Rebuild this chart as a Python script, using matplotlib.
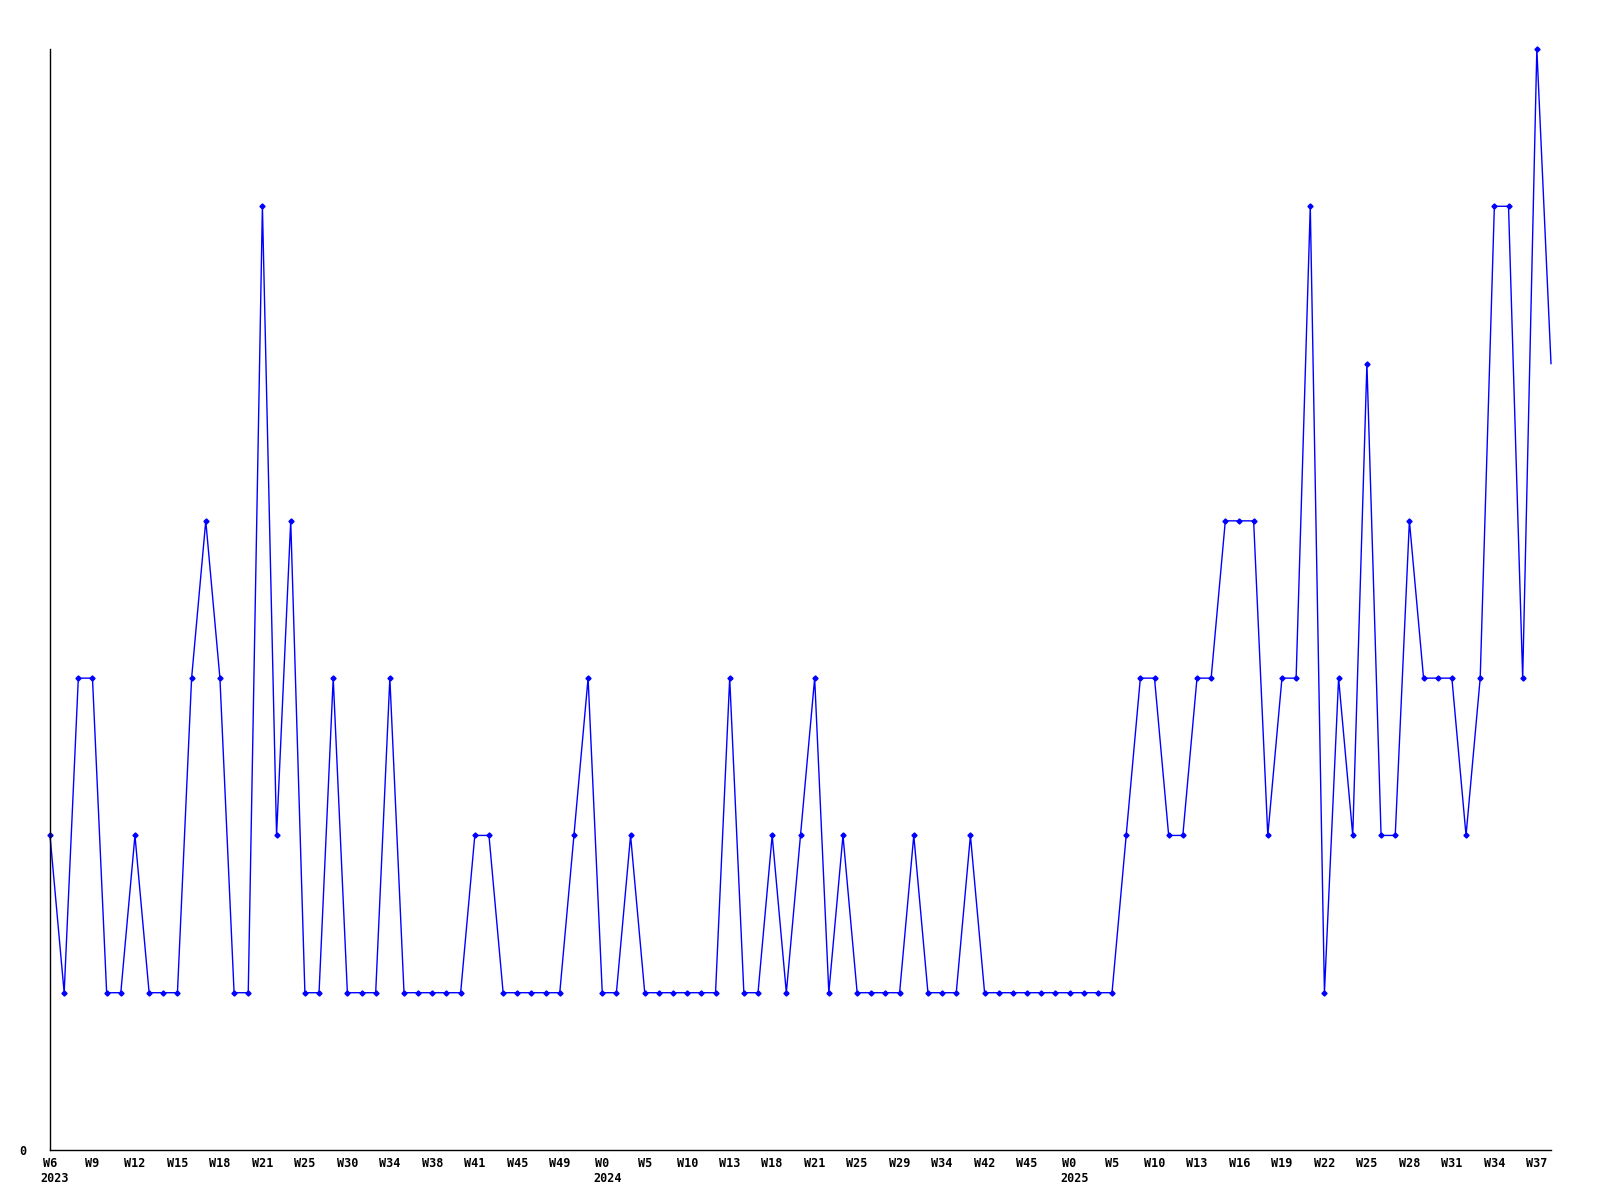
import matplotlib
matplotlib.use("Agg")
import matplotlib.pyplot as plt

values = [2, 1, 3, 3, 1, 1, 2, 1, 1, 1,
          3, 4, 3, 1, 1, 6, 2, 4, 1, 1,
          3, 1, 1, 1, 3, 1, 1, 1, 1, 1,
          2, 2, 1, 1, 1, 1, 1, 2, 3, 1,
          1, 2, 1, 1, 1, 1, 1, 1, 3, 1,
          1, 2, 1, 2, 3, 1, 2, 1, 1, 1,
          1, 2, 1, 1, 1, 2, 1, 1, 1, 1,
          1, 1, 1, 1, 1, 1, 2, 3, 3, 2,
          2, 3, 3, 4, 4, 4, 2, 3, 3, 6,
          1, 3, 2, 5, 2, 2, 4, 3, 3, 3,
          2, 3, 6, 6, 3, 7, 5]

week_labels = ["W6", "W9", "W12", "W15", "W18", "W21", "W25", "W30", "W34", "W38",
               "W41", "W45", "W49", "W0", "W5", "W10", "W13", "W18", "W21", "W25",
               "W29", "W34", "W42", "W45", "W0", "W5", "W10", "W13", "W16", "W19",
               "W22", "W25", "W28", "W31", "W34", "W37"]
year_labels = ["2023", "2024", "2025"]
year_label_positions = [0, 13, 24]  # index into week_labels

FONT = "DejaVu Sans Mono"
FS = 8.5

fig = plt.figure(figsize=(16, 12), dpi=100)
ax = fig.add_axes([50 / 1600, 50 / 1200, 1501 / 1600, 1101 / 1200])

x = list(range(len(values)))
ax.plot(x, values, color="#0000FF", linewidth=1.0, marker="D", markersize=2.6,
        markerfacecolor="#0000FF", markeredgecolor="#0000FF",
        markevery=list(range(len(values) - 1)), clip_on=False)

ax.set_xlim(0, len(values) - 1)
ax.set_ylim(0, 7)

for s in ["top", "right"]:
    ax.spines[s].set_visible(False)
for s in ["left", "bottom"]:
    ax.spines[s].set_color("black")
    ax.spines[s].set_linewidth(1.0)

tick_pos = list(range(0, len(values), 3))
ax.set_xticks(tick_pos)
ax.set_xticklabels(week_labels, fontfamily=FONT, fontsize=FS, fontweight="bold")
ax.set_yticks([0])
ax.set_yticklabels(["0"], fontfamily=FONT, fontsize=FS, fontweight="bold")
ax.tick_params(axis="x", length=0, pad=5)
ax.tick_params(axis="y", length=0, pad=17)

char_w = 0.602 * FS
for yl, li in zip(year_labels, year_label_positions):
    wl = week_labels[li]
    off = -len(wl) * char_w / 2 - 1.5
    ax.annotate(yl, xy=(tick_pos[li], 0), xycoords=("data", "axes fraction"),
                xytext=(off, -16), textcoords="offset points",
                ha="left", va="top", fontfamily=FONT, fontsize=FS, fontweight="bold")

fig.savefig("out.png", dpi=100)
